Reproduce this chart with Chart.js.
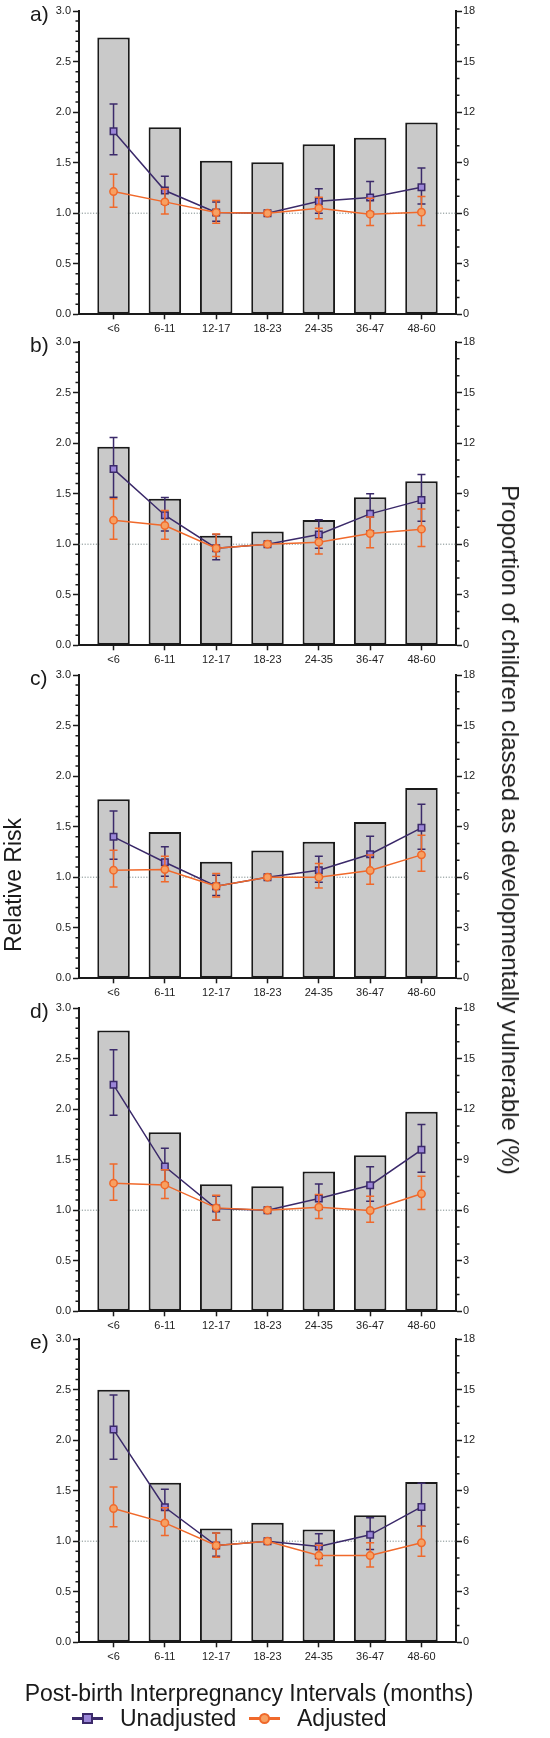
<!DOCTYPE html>
<html>
<head>
<meta charset="utf-8">
<script src="https://cdn.jsdelivr.net/npm/chart.js@4.4.1/dist/chart.umd.min.js"></script>
<style>
  html, body { margin:0; padding:0; background:#fff; }
  body { width:550px; height:1738px; position:relative; overflow:hidden;
         font-family:"Liberation Sans", Arial, Helvetica, sans-serif; color:#1a1a1a; }
  canvas.panel { position:absolute; left:0; }
  .t { position:absolute; white-space:nowrap; line-height:1; }
  .plabel { font-size:21px; left:30px; transform:translateY(-50%); }
  .ytitle { font-size:23px; transform:translate(-50%,-50%) rotate(-90deg); }
  .y2title { font-size:24px; transform:translate(-50%,-50%) rotate(90deg); }
  .xtitle { font-size:23px; transform:translate(-50%,-50%); }
  .leg { font-size:23px; transform:translateY(-50%); }
  .sym { position:absolute; }
</style>
</head>
<body>
<script>
// ---------------- DATA ----------------
const categories = ['<6', '6-11', '12-17', '18-23', '24-35', '36-47', '48-60'];
const panelLabels = ['a)', 'b)', 'c)', 'd)', 'e)'];
const leftTicks = [0, 0.5, 1.0, 1.5, 2.0, 2.5, 3.0];
const rightTicks = [0, 3, 6, 9, 12, 15, 18];

// Panel a
const barsA     = [16.42, 11.10, 9.12, 9.02, 10.09, 10.48, 11.39];
const unadjA    = [1.810, 1.224, 1.007, 1.000, 1.119, 1.155, 1.257];
const unadjLoA  = [1.577, 1.090, 0.920, null, 1.000, 1.010, 1.092];
const unadjHiA  = [2.081, 1.366, 1.110, null, 1.241, 1.313, 1.448];
const adjA      = [1.214, 1.112, 1.007, 1.000, 1.049, 0.990, 1.010];
const adjLoA    = [1.059, 0.993, 0.901, null, 0.944, 0.878, 0.878];
const adjHiA    = [1.386, 1.240, 1.125, null, 1.158, 1.148, 1.165];

// Panel b
const barsB     = [11.78, 8.69, 6.50, 6.75, 7.43, 8.79, 9.74];
const unadjB    = [1.743, 1.287, 0.960, 1.000, 1.096, 1.300, 1.436];
const unadjLoB  = [1.465, 1.130, 0.845, null, 0.960, 1.130, 1.228];
const unadjHiB  = [2.056, 1.462, 1.096, null, 1.241, 1.498, 1.690];
const adjB      = [1.238, 1.185, 0.960, 1.000, 1.020, 1.106, 1.149];
const adjLoB    = [1.050, 1.050, 0.878, null, 0.904, 0.964, 0.977];
const adjHiB    = [1.450, 1.333, 1.100, null, 1.158, 1.270, 1.347];

// Panel c
const barsC     = [10.62, 8.68, 6.92, 7.58, 8.11, 9.28, 11.29];
const unadjC    = [1.399, 1.148, 0.911, 1.000, 1.069, 1.227, 1.488];
const unadjLoC  = [1.178, 1.010, 0.820, null, 0.950, 1.070, 1.277];
const unadjHiC  = [1.656, 1.300, 1.020, null, 1.208, 1.406, 1.722];
const adjC      = [1.069, 1.076, 0.911, 1.000, 1.000, 1.066, 1.221];
const adjLoC    = [0.904, 0.954, 0.805, null, 0.894, 0.931, 1.059];
const adjHiC    = [1.267, 1.208, 1.036, null, 1.135, 1.220, 1.415];

// Panel d
const barsD     = [16.67, 10.62, 7.54, 7.42, 8.29, 9.26, 11.85];
const unadjD    = [2.240, 1.432, 1.016, 1.000, 1.115, 1.247, 1.597];
const unadjLoD  = [1.940, 1.270, 0.900, null, 1.007, 1.089, 1.376];
const unadjHiD  = [2.586, 1.613, 1.140, null, 1.260, 1.429, 1.847];
const adjD      = [1.267, 1.250, 1.023, 1.000, 1.030, 0.997, 1.162];
const adjLoD    = [1.099, 1.115, 0.904, null, 0.918, 0.880, 1.007];
const adjHiD    = [1.458, 1.400, 1.148, null, 1.155, 1.138, 1.336];

// Panel e
const barsE     = [14.99, 9.47, 6.76, 7.10, 6.69, 7.54, 9.51];
const unadjE    = [2.104, 1.336, 0.957, 1.000, 0.947, 1.063, 1.339];
const unadjLoE  = [1.811, 1.170, 0.850, null, 0.830, 0.918, 1.148];
const unadjHiE  = [2.447, 1.514, 1.080, null, 1.073, 1.231, 1.573];
const adjE      = [1.323, 1.181, 0.957, 1.000, 0.858, 0.858, 0.984];
const adjLoE    = [1.142, 1.056, 0.842, null, 0.759, 0.746, 0.852];
const adjHiE    = [1.537, 1.330, 1.082, null, 0.960, 0.984, 1.148];

const referenceRR = 1.0;
// --------------------------------------

const PURPLE = '#3b2a6a';
const PURPLE_FILL = '#9b86d8';
const ORANGE = '#f0692b';
const ORANGE_FILL = '#f7a062';
const INK = '#1a1a1a';
const BAR_FILL = '#c9c9c9';

Chart.defaults.font.family = '"Liberation Sans", Arial, Helvetica, sans-serif';
Chart.defaults.color = '#222';

const panelData = [
  { bars: barsA, unadj: unadjA, uLo: unadjLoA, uHi: unadjHiA, adj: adjA, aLo: adjLoA, aHi: adjHiA },
  { bars: barsB, unadj: unadjB, uLo: unadjLoB, uHi: unadjHiB, adj: adjB, aLo: adjLoB, aHi: adjHiB },
  { bars: barsC, unadj: unadjC, uLo: unadjLoC, uHi: unadjHiC, adj: adjC, aLo: adjLoC, aHi: adjHiC },
  { bars: barsD, unadj: unadjD, uLo: unadjLoD, uHi: unadjHiD, adj: adjD, aLo: adjLoD, aHi: adjHiD },
  { bars: barsE, unadj: unadjE, uLo: unadjLoE, uHi: unadjHiE, adj: adjE, aLo: adjLoE, aHi: adjHiE }
];
const canvasTops = [1, 332, 665, 998, 1329];

const errorBars = {
  id: 'errorBars',
  beforeDatasetDraw(chart, args) {
    const ds = chart.data.datasets[args.index];
    if (!ds.errLo) return;
    const xs = chart.scales.x, ys = chart.scales[ds.yAxisID];
    const ctx = chart.ctx;
    ctx.save();
    ctx.strokeStyle = ds.borderColor;
    ctx.lineWidth = 1.5;
    ctx.beginPath();
    ds.errLo.forEach((lo, i) => {
      const hi = ds.errHi[i];
      if (lo == null || hi == null) return;
      const px = xs.getPixelForValue(i);
      const pl = ys.getPixelForValue(lo), ph = ys.getPixelForValue(hi);
      ctx.moveTo(px, pl); ctx.lineTo(px, ph);
      ctx.moveTo(px - 4, pl); ctx.lineTo(px + 4, pl);
      ctx.moveTo(px - 4, ph); ctx.lineTo(px + 4, ph);
    });
    ctx.stroke();
    ctx.restore();
  }
};

const refLine = {
  id: 'refLine',
  beforeDatasetsDraw(chart) {
    const { ctx, chartArea } = chart;
    const py = chart.scales.y.getPixelForValue(referenceRR);
    ctx.save();
    ctx.strokeStyle = '#7d8b8b';
    ctx.lineWidth = 1;
    ctx.setLineDash([1.2, 1.6]);
    ctx.beginPath();
    ctx.moveTo(chartArea.left, py);
    ctx.lineTo(chartArea.right, py);
    ctx.stroke();
    ctx.restore();
  }
};

const minorTicks = {
  id: 'minorTicks',
  afterDraw(chart) {
    const { ctx, chartArea } = chart;
    const y = chart.scales.y, y2 = chart.scales.y2;
    ctx.save();
    ctx.strokeStyle = INK;
    ctx.lineWidth = 1.5;
    ctx.beginPath();
    for (let k = 0; k <= 30; k++) {
      if (k % 5 === 0) continue;
      const py = y.getPixelForValue(k / 10);
      ctx.moveTo(chartArea.left - 3.5, py); ctx.lineTo(chartArea.left, py);
    }
    for (let k = 0; k <= 18; k++) {
      if (k % 3 === 0) continue;
      const py = y2.getPixelForValue(k);
      ctx.moveTo(chartArea.right, py); ctx.lineTo(chartArea.right + 3.5, py);
    }
    ctx.stroke();
    ctx.restore();
  }
};

function pts(arr) { return categories.map((c, i) => ({ x: i, y: arr[i] })); }

function makePanel(idx) {
  const p = panelData[idx];
  const cv = document.createElement('canvas');
  cv.className = 'panel';
  cv.width = 550; cv.height = 340;
  cv.style.top = canvasTops[idx] + 'px';
  cv.style.width = '550px'; cv.style.height = '340px';
  document.body.appendChild(cv);

  const lbl = document.createElement('div');
  lbl.className = 't plabel';
  lbl.style.top = (canvasTops[idx] + 12) + 'px';
  lbl.textContent = panelLabels[idx];
  document.body.appendChild(lbl);

  new Chart(cv, {
    type: 'bar',
    data: {
      datasets: [
        {
          type: 'line', label: 'Adjusted', order: 1, yAxisID: 'y',
          data: pts(p.adj), errLo: p.aLo, errHi: p.aHi,
          borderColor: ORANGE, borderWidth: 1.5, tension: 0,
          pointStyle: 'circle', pointRadius: 3.7,
          pointBackgroundColor: ORANGE_FILL, pointBorderColor: ORANGE, pointBorderWidth: 1.5
        },
        {
          type: 'line', label: 'Unadjusted', order: 2, yAxisID: 'y',
          data: pts(p.unadj), errLo: p.uLo, errHi: p.uHi,
          borderColor: PURPLE, borderWidth: 1.5, tension: 0,
          pointStyle: 'rect', pointRadius: 4.6,
          pointBackgroundColor: PURPLE_FILL, pointBorderColor: PURPLE, pointBorderWidth: 1.5
        },
        {
          type: 'bar', label: 'Proportion developmentally vulnerable (%)', order: 3, yAxisID: 'y2',
          data: pts(p.bars),
          backgroundColor: BAR_FILL, borderColor: INK, borderWidth: 2, borderSkipped: false,
          barPercentage: 0.633, categoryPercentage: 1
        }
      ]
    },
    options: {
      responsive: false,
      animation: false,
      devicePixelRatio: 1,
      layout: { padding: { top: 10, bottom: 0.7, left: 0, right: 0 } },
      plugins: { legend: { display: false }, tooltip: { enabled: false } },
      scales: {
        x: {
          type: 'linear', min: -0.673, max: 6.673, offset: false,
          afterBuildTicks: s => { s.ticks = categories.map((c, i) => ({ value: i })); },
          afterFit: s => { s.height = 26; },
          ticks: { callback: v => categories[v], font: { size: 11 }, color: '#222',
                   padding: 3, maxRotation: 0, autoSkip: false },
          grid: { display: true, drawOnChartArea: false, drawTicks: true, tickLength: 5,
                  tickWidth: 1.5, tickColor: INK, offset: false },
          border: { display: true, color: INK, width: 2 }
        },
        y: {
          type: 'linear', position: 'left', min: 0, max: 3,
          afterBuildTicks: s => { s.ticks = leftTicks.map(v => ({ value: v })); },
          afterFit: s => { s.width = 79; },
          ticks: { callback: v => Number(v).toFixed(1), font: { size: 11 }, color: '#222', padding: 2 },
          grid: { display: true, drawOnChartArea: false, drawTicks: true, tickLength: 6,
                  tickWidth: 1.5, tickColor: INK },
          border: { display: true, color: INK, width: 2 }
        },
        y2: {
          type: 'linear', position: 'right', min: 0, max: 18,
          afterBuildTicks: s => { s.ticks = rightTicks.map(v => ({ value: v })); },
          afterFit: s => { s.width = 94; },
          ticks: { callback: v => String(v), font: { size: 11 }, color: '#222', padding: 1 },
          grid: { display: true, drawOnChartArea: false, drawTicks: true, tickLength: 6,
                  tickWidth: 1.5, tickColor: INK },
          border: { display: true, color: INK, width: 2 }
        }
      }
    },
    plugins: [refLine, errorBars, minorTicks]
  });
}

for (let i = 0; i < 5; i++) makePanel(i);

function addText(cls, text, left, top) {
  const d = document.createElement('div');
  d.className = 't ' + cls;
  d.textContent = text;
  d.style.left = left + 'px';
  d.style.top = top + 'px';
  document.body.appendChild(d);
  return d;
}
addText('ytitle', 'Relative Risk', 13, 885);
addText('y2title', 'Proportion of children classed as developmentally vulnerable (%)', 510, 830);
addText('xtitle', 'Post-birth Interpregnancy Intervals (months)', 249, 1693);

// legend
function legendSymbol(x, y, color, fill, shape) {
  const line = document.createElement('div');
  line.className = 'sym';
  line.style.cssText += `left:${x}px;top:${y - 1.5}px;width:31px;height:3px;background:${color};`;
  document.body.appendChild(line);
  const m = document.createElement('div');
  m.className = 'sym';
  const s = 11;
  m.style.cssText += `left:${x + 15.5 - s / 2}px;top:${y - s / 2}px;width:${s - 4}px;height:${s - 4}px;` +
    `background:${fill};border:2px solid ${color};` + (shape === 'circle' ? 'border-radius:50%;' : '');
  document.body.appendChild(m);
}
legendSymbol(72, 1718, PURPLE, PURPLE_FILL, 'rect');
addText('leg', 'Unadjusted', 120, 1718);
legendSymbol(249, 1718, ORANGE, ORANGE_FILL, 'circle');
addText('leg', 'Adjusted', 297, 1718);
</script>
</body>
</html>
